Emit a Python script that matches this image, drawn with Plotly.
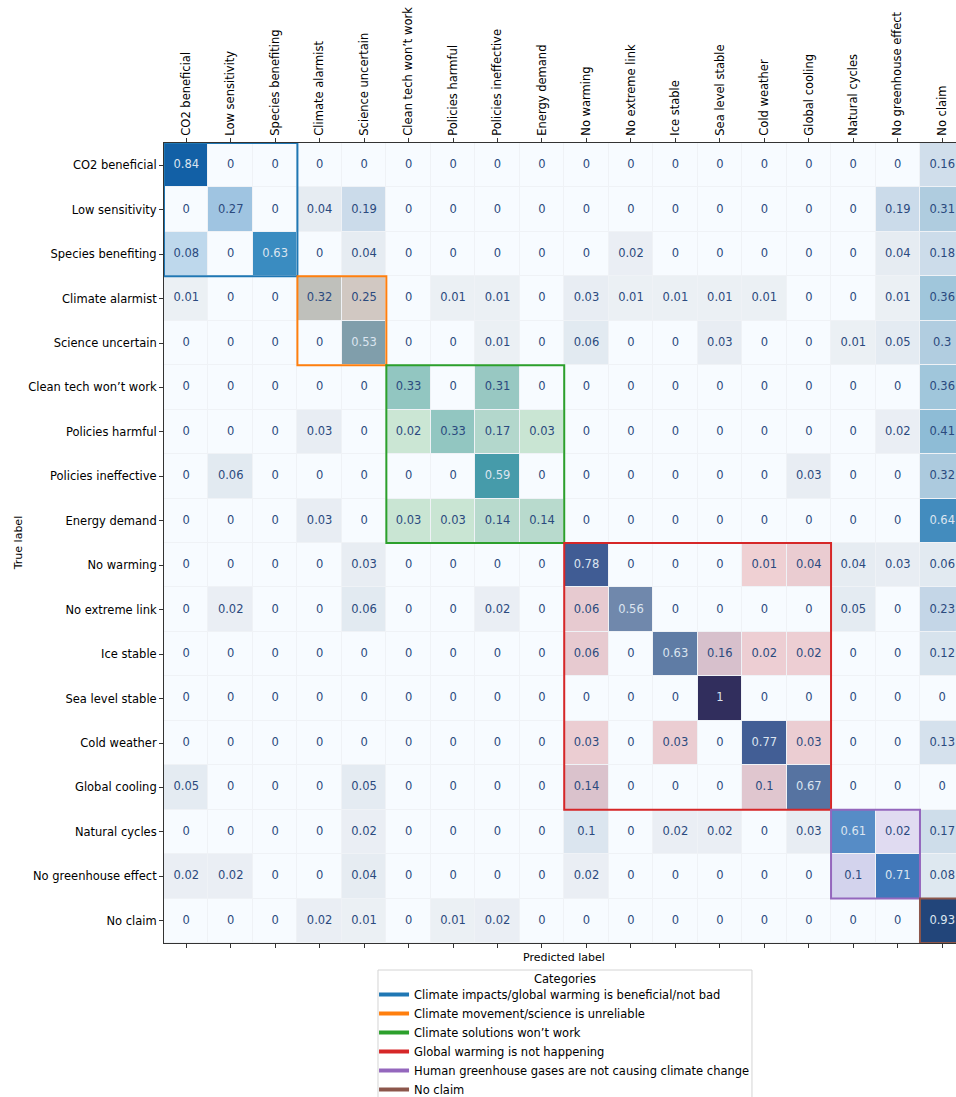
import plotly.graph_objects as go

labels = ["CO2 beneficial", "Low sensitivity", "Species benefiting", "Climate alarmist",
          "Science uncertain", "Clean tech won\u2019t work", "Policies harmful", "Policies ineffective",
          "Energy demand", "No warming", "No extreme link", "Ice stable", "Sea level stable",
          "Cold weather", "Global cooling", "Natural cycles", "No greenhouse effect", "No claim"]

# category index of each label
label_group = [0, 0, 0, 1, 1, 2, 2, 2, 2, 3, 3, 3, 3, 3, 3, 4, 4, 5]

category_names = ["Climate impacts/global warming is beneficial/not bad",
                  "Climate movement/science is unreliable",
                  "Climate solutions won\u2019t work",
                  "Global warming is not happening",
                  "Human greenhouse gases are not causing climate change",
                  "No claim"]
category_colors = ["#1f77b4", "#ff7f0e", "#2ca02c", "#d62728", "#9467bd", "#8c564b"]

row_co2 = [0.84, 0, 0, 0, 0, 0, 0, 0, 0, 0, 0, 0, 0, 0, 0, 0, 0, 0.16]
row_low = [0, 0.27, 0, 0.04, 0.19, 0, 0, 0, 0, 0, 0, 0, 0, 0, 0, 0, 0.19, 0.31]
row_species = [0.08, 0, 0.63, 0, 0.04, 0, 0, 0, 0, 0, 0.02, 0, 0, 0, 0, 0, 0.04, 0.18]
row_alarmist = [0.01, 0, 0, 0.32, 0.25, 0, 0.01, 0.01, 0, 0.03, 0.01, 0.01, 0.01, 0.01, 0, 0, 0.01, 0.36]
row_science = [0, 0, 0, 0, 0.53, 0, 0, 0.01, 0, 0.06, 0, 0, 0.03, 0, 0, 0.01, 0.05, 0.3]
row_cleantech = [0, 0, 0, 0, 0, 0.33, 0, 0.31, 0, 0, 0, 0, 0, 0, 0, 0, 0, 0.36]
row_harmful = [0, 0, 0, 0.03, 0, 0.02, 0.33, 0.17, 0.03, 0, 0, 0, 0, 0, 0, 0, 0.02, 0.41]
row_ineffective = [0, 0.06, 0, 0, 0, 0, 0, 0.59, 0, 0, 0, 0, 0, 0, 0.03, 0, 0, 0.32]
row_energy = [0, 0, 0, 0.03, 0, 0.03, 0.03, 0.14, 0.14, 0, 0, 0, 0, 0, 0, 0, 0, 0.64]
row_nowarming = [0, 0, 0, 0, 0.03, 0, 0, 0, 0, 0.78, 0, 0, 0, 0.01, 0.04, 0.04, 0.03, 0.06]
row_noextreme = [0, 0.02, 0, 0, 0.06, 0, 0, 0.02, 0, 0.06, 0.56, 0, 0, 0, 0, 0.05, 0, 0.23]
row_ice = [0, 0, 0, 0, 0, 0, 0, 0, 0, 0.06, 0, 0.63, 0.16, 0.02, 0.02, 0, 0, 0.12]
row_sealevel = [0, 0, 0, 0, 0, 0, 0, 0, 0, 0, 0, 0, 1, 0, 0, 0, 0, 0]
row_cold = [0, 0, 0, 0, 0, 0, 0, 0, 0, 0.03, 0, 0.03, 0, 0.77, 0.03, 0, 0, 0.13]
row_cooling = [0.05, 0, 0, 0, 0.05, 0, 0, 0, 0, 0.14, 0, 0, 0, 0.1, 0.67, 0, 0, 0]
row_natural = [0, 0, 0, 0, 0.02, 0, 0, 0, 0, 0.1, 0, 0.02, 0.02, 0, 0.03, 0.61, 0.02, 0.17]
row_greenhouse = [0.02, 0.02, 0, 0, 0.04, 0, 0, 0, 0, 0.02, 0, 0, 0, 0, 0, 0.1, 0.71, 0.08]
row_noclaim = [0, 0, 0, 0.02, 0.01, 0, 0.01, 0.02, 0, 0, 0, 0, 0, 0, 0, 0, 0, 0.93]

matrix = [row_co2, row_low, row_species, row_alarmist, row_science, row_cleantech,
          row_harmful, row_ineffective, row_energy, row_nowarming, row_noextreme, row_ice,
          row_sealevel, row_cold, row_cooling, row_natural, row_greenhouse, row_noclaim]

n = len(labels)
idx = list(range(n))
FS = 11.5

blues = [[0.0, "#f7fbff"], [0.125, "#deebf7"], [0.25, "#c6dbef"], [0.375, "#9ecae1"],
         [0.5, "#6baed6"], [0.625, "#4292c6"], [0.75, "#2171b5"], [0.875, "#08519c"],
         [1.0, "#08306b"]]

def hex_rgba(h, a):
    h = h.lstrip("#")
    return f"rgba({int(h[0:2],16)},{int(h[2:4],16)},{int(h[4:6],16)},{a})"

# overlay: category tint on in-block non-zero cells, light gray tint elsewhere
overlay_colors = [hex_rgba(c, 0.2) for c in category_colors] + ["rgba(127,127,127,0.08)"]
k = len(overlay_colors)
overlay_scale = []
for i, c in enumerate(overlay_colors):
    overlay_scale.append([i / k, c])
    overlay_scale.append([(i + 1) / k, c])

overlay_z = []
for r in range(n):
    row = []
    for c in range(n):
        v = matrix[r][c]
        if v == 0:
            row.append(None)
        elif label_group[r] == label_group[c]:
            row.append(label_group[r] + 0.5)
        else:
            row.append(len(category_colors) + 0.5)
    overlay_z.append(row)

fig = go.Figure()
fig.add_trace(go.Heatmap(z=matrix, x=idx, y=idx, colorscale=blues, zmin=0, zmax=1,
                         showscale=False, xgap=1, ygap=1, hoverinfo="skip"))
fig.add_trace(go.Heatmap(z=overlay_z, x=idx, y=idx, colorscale=overlay_scale, zmin=0, zmax=k,
                         showscale=False, xgap=1, ygap=1, hoverinfo="skip"))

tx, ty, tt, tc = [], [], [], []
for r in range(n):
    for c in range(n):
        v = matrix[r][c]
        tx.append(c)
        ty.append(r)
        tt.append(f"{v:g}")
        tc.append("#dce5f0" if v >= 0.5 else "#2b4a7e")
fig.add_trace(go.Scatter(x=tx, y=ty, text=tt, mode="text", showlegend=False,
                         textfont=dict(family="DejaVu Sans", size=FS, color=tc),
                         hoverinfo="skip", cliponaxis=True))

# category outlines
for g, col in enumerate(category_colors):
    members = [i for i in idx if label_group[i] == g]
    lo, hi = min(members) - 0.5, max(members) + 0.5
    fig.add_shape(type="rect", xref="x", yref="y", x0=lo, x1=hi, y0=lo, y1=hi,
                  line=dict(color=col, width=2), layer="above")

# legend entries
for name, col in zip(category_names, category_colors):
    fig.add_trace(go.Scatter(x=[None], y=[None], mode="lines", name=name,
                             line=dict(color=col, width=4)))

# legend frame (drawn as a paper-referenced box around title + entries)
fig.add_shape(type="rect", xref="paper", yref="paper", x0=0.2702, x1=0.7424,
              y0=-0.194, y1=-0.03375, line=dict(color="#d4d4d4", width=1),
              fillcolor="white", layer="below")

fig.update_layout(
    width=956, height=1097,
    margin=dict(l=164, r=0, t=143, b=154, autoexpand=False),
    paper_bgcolor="white", plot_bgcolor="#eff2f6",
    font=dict(family="DejaVu Sans", size=FS, color="black"),
    legend=dict(x=0.2652, xanchor="left", y=-0.04625, yanchor="top",
                bgcolor="rgba(0,0,0,0)", borderwidth=0,
                font=dict(size=FS), tracegroupgap=0, itemwidth=30),
    annotations=[
        dict(text="Categories", xref="paper", yref="paper", x=0.5063, y=-0.045,
             showarrow=False, xanchor="center", yanchor="middle", font=dict(size=FS)),
        dict(text="Predicted label", xref="paper", yref="paper", x=0.505, y=-0.0175,
             showarrow=False, xanchor="center", yanchor="middle", font=dict(size=11)),
        dict(text="True label", xref="paper", yref="paper", x=-0.184, y=0.5, textangle=-90,
             showarrow=False, xanchor="center", yanchor="middle", font=dict(size=11)),
    ],
)
fig.update_xaxes(range=[-0.5, 17.31], side="top", tickmode="array", tickvals=idx, ticktext=labels,
                 tickangle=-90, ticks="outside", ticklen=4, tickcolor="#333",
                 showline=True, linecolor="#333", linewidth=1, mirror="ticks",
                 showgrid=False, zeroline=False, fixedrange=True, automargin=False,
                 tickfont=dict(size=FS))
fig.update_yaxes(range=[17.5, -0.5], tickmode="array", tickvals=idx, ticktext=labels,
                 ticks="outside", ticklen=4, tickcolor="#333",
                 showline=True, linecolor="#333", linewidth=1, mirror=True,
                 showgrid=False, zeroline=False, fixedrange=True, automargin=False,
                 tickfont=dict(size=FS))

fig.write_html("out.html", config={"displayModeBar": False},
               post_script="document.body.style.margin='0';document.body.style.overflow='hidden';")
